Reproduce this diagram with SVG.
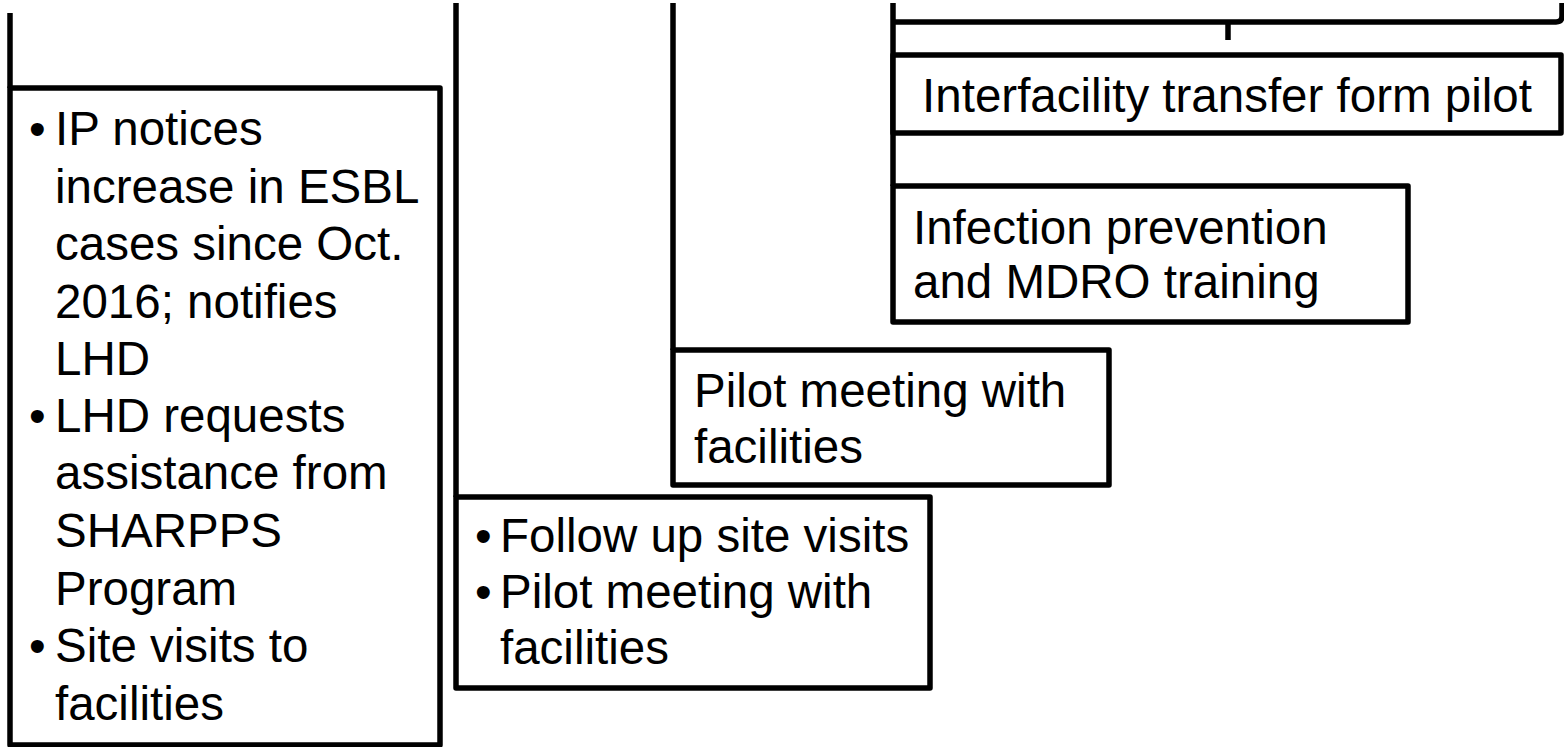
<svg xmlns="http://www.w3.org/2000/svg" width="1564" height="747" viewBox="0 0 1564 747">
<style>
.box{fill:#fff;stroke:#000;stroke-width:5.5;stroke-linejoin:round}
.ln{fill:none;stroke:#000;stroke-width:5.5;stroke-linejoin:round}
.t{font-family:"Liberation Sans",Arial,sans-serif;font-size:47.5px;fill:#000}
</style>
<rect width="1564" height="747" fill="#fff"/>
<g id="connectors">
<line class="ln" x1="10" y1="13" x2="10" y2="88"/>
<line class="ln" x1="456" y1="3" x2="456" y2="497"/>
<line class="ln" x1="673" y1="3" x2="673" y2="350"/>
<line class="ln" x1="893" y1="3" x2="893" y2="186"/>
<path class="ln" d="M893,22 H1556 Q1562,22 1562,16 V3"/>
<line class="ln" x1="1228" y1="22" x2="1228" y2="40"/>
</g>
<g id="node-initial">
<rect class="box" x="10" y="88" width="430" height="657"/>
<text class="t">
<tspan x="29" y="145">•</tspan><tspan x="55" y="145">IP notices</tspan>
<tspan x="55" y="202.5">increase in ESBL</tspan>
<tspan x="55" y="260">cases since Oct.</tspan>
<tspan x="55" y="317.5">2016; notifies</tspan>
<tspan x="55" y="375">LHD</tspan>
<tspan x="29" y="432">•</tspan><tspan x="55" y="432">LHD requests</tspan>
<tspan x="55" y="489">assistance from</tspan>
<tspan x="55" y="547">SHARPPS</tspan>
<tspan x="55" y="605">Program</tspan>
<tspan x="29" y="662">•</tspan><tspan x="55" y="662">Site visits to</tspan>
<tspan x="55" y="720">facilities</tspan>
</text>
</g>
<g id="node-followup">
<rect class="box" x="456" y="497" width="474" height="191"/>
<text class="t">
<tspan x="475" y="552">•</tspan><tspan x="500" y="552">Follow up site visits</tspan>
<tspan x="475" y="608">•</tspan><tspan x="500" y="608">Pilot meeting with</tspan>
<tspan x="500" y="664">facilities</tspan>
</text>
</g>
<g id="node-pilot">
<rect class="box" x="673" y="350" width="436" height="135"/>
<text class="t">
<tspan x="694" y="407">Pilot meeting with</tspan>
<tspan x="694" y="463">facilities</tspan>
</text>
</g>
<g id="node-infection">
<rect class="box" x="893" y="186" width="515" height="136"/>
<text class="t">
<tspan x="913" y="244">Infection prevention</tspan>
<tspan x="913" y="298">and MDRO training</tspan>
</text>
</g>
<g id="node-interfacility">
<rect class="box" x="893" y="55" width="668" height="78"/>
<text class="t" x="1227" y="112" text-anchor="middle">Interfacility transfer form pilot</text>
</g>
</svg>
